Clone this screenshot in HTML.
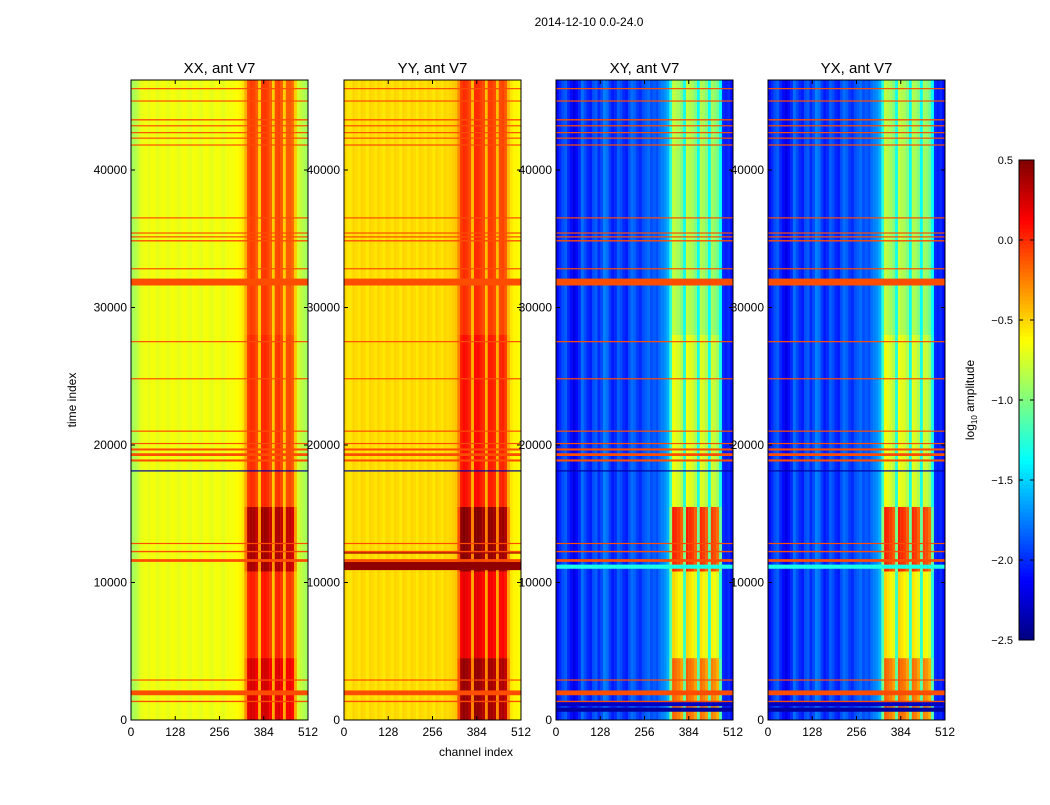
<!DOCTYPE html>
<html><head><meta charset="utf-8"><style>
body{margin:0;background:#fff;font-family:"Liberation Sans",sans-serif}
svg text{font-family:"Liberation Sans",sans-serif}
</style></head><body>
<svg id="fig" width="1050" height="800" xmlns="http://www.w3.org/2000/svg">
<rect width="1050" height="800" fill="#fff"/>
<text x="589" y="26" font-size="12" text-anchor="middle">2014-12-10 0.0-24.0</text>
<text x="476" y="756" font-size="12" text-anchor="middle">channel index</text>
<text transform="translate(76,400) rotate(-90)" font-size="12" text-anchor="middle">time index</text>
<text transform="translate(974,400) rotate(-90)" font-size="12" text-anchor="middle">log<tspan font-size="8" dy="3">10</tspan><tspan dy="-3"> amplitude</tspan></text>
<g id="panels"></g>
<g id="cbar"></g>
</svg>
<script>
const panelTitles=["XX, ant V7","YY, ant V7","XY, ant V7","YX, ant V7"];
const xTickLabels=[0,128,256,384,512];
const yTickLabels=[0,10000,20000,30000,40000];
const cbarTicks=[0.5,0.0,-0.5,-1.0,-1.5,-2.0,-2.5];
// column profiles: 64 bins of 8 channels, log10 amplitude
const colXX=[-0.9,-0.85,-0.8,-0.7,-0.68,-0.66,-0.7,-0.65,-0.66,-0.7,-0.68,-0.65,-0.67,-0.7,-0.66,-0.65,-0.68,-0.7,-0.66,-0.65,-0.68,-0.7,-0.66,-0.65,-0.68,-0.7,-0.66,-0.65,-0.68,-0.7,-0.66,-0.65,-0.68,-0.7,-0.66,-0.65,-0.66,-0.64,-0.62,-0.6,-0.55,-0.4,-0.15,-0.1,-0.12,-0.2,-0.5,-0.1,-0.08,-0.12,-0.2,-0.5,-0.15,-0.12,-0.2,-0.5,-0.2,-0.18,-0.25,-0.5,-0.75,-0.8,-0.85,-0.9];
const colYY=[-0.5,-0.55,-0.55,-0.5,-0.52,-0.55,-0.5,-0.52,-0.56,-0.5,-0.52,-0.55,-0.5,-0.53,-0.56,-0.5,-0.52,-0.55,-0.5,-0.52,-0.56,-0.5,-0.52,-0.55,-0.5,-0.52,-0.56,-0.5,-0.52,-0.55,-0.5,-0.52,-0.56,-0.5,-0.52,-0.55,-0.5,-0.52,-0.5,-0.48,-0.45,-0.3,-0.1,-0.05,-0.08,-0.15,-0.45,-0.05,-0.05,-0.1,-0.15,-0.45,-0.1,-0.1,-0.15,-0.45,-0.15,-0.12,-0.2,-0.45,-0.55,-0.6,-0.6,-0.65];
const colXY=[-2.1,-2.0,-1.9,-1.85,-2.0,-2.1,-2.2,-2.1,-2.0,-1.8,-1.9,-2.0,-2.05,-1.9,-1.85,-2.0,-1.9,-1.75,-1.8,-1.95,-2.05,-2.0,-1.85,-1.9,-2.0,-2.05,-1.9,-1.8,-1.85,-1.95,-2.0,-1.9,-1.85,-1.8,-1.9,-1.85,-1.9,-1.8,-1.75,-1.7,-1.6,-1.3,-0.9,-0.95,-1.0,-1.1,-1.35,-0.9,-0.95,-1.0,-1.1,-1.4,-0.95,-1.0,-1.1,-1.4,-1.0,-1.05,-1.15,-1.4,-2.0,-2.05,-2.0,-2.1];
const colYX=[-2.1,-2.0,-1.9,-1.85,-2.0,-2.1,-2.2,-2.1,-2.0,-1.8,-1.9,-2.0,-2.05,-1.9,-1.85,-2.0,-1.9,-1.75,-1.8,-1.95,-2.05,-2.0,-1.85,-1.9,-2.0,-2.05,-1.9,-1.8,-1.85,-1.95,-2.0,-1.9,-1.85,-1.8,-1.9,-1.85,-1.9,-1.8,-1.75,-1.7,-1.6,-1.3,-0.9,-0.95,-1.0,-1.1,-1.35,-0.9,-0.95,-1.0,-1.1,-1.4,-0.95,-1.0,-1.1,-1.4,-1.0,-1.05,-1.15,-1.4,-2.0,-2.05,-2.0,-2.1];
const colProfiles=[colXX,colYY,colXY,colYX];
// time-range boosts in band channels (start,end,boost per panel)
const boostStart=[0,4500,10800,15500,28000];
const boostEnd=[4500,10800,15500,28000,46545];
const boostXX=[0.35,0.15,0.5,0.1,0.05];
const boostYY=[0.5,0.25,0.55,0.15,0.05];
const boostXY=[0.75,0.4,0.95,0.25,0.1];
const boostYX=[0.75,0.4,0.95,0.25,0.1];
const boosts=[boostXX,boostYY,boostXY,boostYX];
// flagged time rows common to all panels
const flagStart=[1800,1300,2900,11500,12200,12800,18800,19200,19600,20100,21000,24800,27500,31600,32800,34800,35100,35400,36500,41800,42300,42700,43200,43600,45000,45900];
const flagEnd=[2150,1400,2950,11700,12300,12880,18950,19400,19750,20150,21050,24860,27560,32100,32860,34900,35180,35460,36560,41860,42360,42760,43260,43700,45060,45960];
const flagValue=-0.1;
// panel-specific extra rows
const extraPanel=[1,1,2,2,2,3,3,3,0,1,2,3];
const extraStart=[10900,12100,600,1000,11000,600,1000,11000,18100,18100,18100,18100];
const extraEnd=[11500,12200,900,1300,11300,900,1300,11300,18160,18160,18160,18160];
const extraValue=[0.45,0.4,-2.4,-2.3,-1.3,-2.4,-2.3,-1.3,-2.4,-2.4,-2.4,-2.4];
const tMax=46545, cMax=512, vMin=-2.5, vMax=0.5, binW=8;
const panelX=[131,344,556,768], panelW=177, pTop=80, pBot=720;
const NS="http://www.w3.org/2000/svg";
function jet(v){let t=(v-vMin)/(vMax-vMin);t=Math.max(0,Math.min(1,t));
 const r=Math.max(0,Math.min(1,1.5-Math.abs(4*t-3))),g=Math.max(0,Math.min(1,1.5-Math.abs(4*t-2))),b=Math.max(0,Math.min(1,1.5-Math.abs(4*t-1)));
 return `rgb(${Math.round(r*255)},${Math.round(g*255)},${Math.round(b*255)})`;}
function mk(tag,at,parent){const e=document.createElementNS(NS,tag);for(const k in at)e.setAttribute(k,at[k]);parent.appendChild(e);return e;}
const panels=document.getElementById('panels');
panelTitles.forEach((title,p)=>{
 const x0=panelX[p];
 const xs=c=>x0+c/cMax*panelW, ys=t=>pBot-t/tMax*(pBot-pTop);
 const g=mk('g',{},panels);
 
 
 const prof=colProfiles[p];
 prof.forEach((v,i)=>{
  const w=xs((i+1)*binW)-xs(i*binW)+0.3;
  const r=mk('rect',{x:xs(i*binW),y:pTop,width:w,height:pBot-pTop,fill:jet(v)},g);
  
  
  if(i>=41&&i<=59){
   boostStart.forEach((s,k)=>{
    const gap=(i===46||i===51||i===55||i===59||i===41)?0.35:1;
    const rr=mk('rect',{x:xs(i*binW),y:ys(boostEnd[k]),width:w,height:ys(boostStart[k])-ys(boostEnd[k]),fill:jet(v+boosts[p][k]*gap)},g);
    
    
   });
  }
 });
 extraPanel.forEach((pp,k)=>{
  if(pp!==p)return;
  const h=Math.max(1.2,ys(extraStart[k])-ys(extraEnd[k]));
  const e=mk('rect',{x:x0,y:ys(extraEnd[k]),width:panelW,height:h,fill:jet(extraValue[k])},g);
  
  
 });
 flagStart.forEach((s,k)=>{
  const h=Math.max(1.2,ys(s)-ys(flagEnd[k]));
  const f=mk('rect',{x:x0,y:ys(flagEnd[k]),width:panelW,height:h,fill:jet(flagValue)},g);
  
  
 });
 const fr=mk('rect',{x:x0,y:pTop,width:panelW,height:pBot-pTop,fill:'none',stroke:'#000','stroke-width':1},g);
 
 
 const tt=mk('text',{x:x0+panelW/2,y:73,'font-size':15,'text-anchor':'middle'},g);tt.textContent=title;
 
 
 xTickLabels.forEach(c=>{const X=xs(c);
  mk('line',{x1:X,x2:X,y1:pBot,y2:pBot-4,stroke:'#000'},g);mk('line',{x1:X,x2:X,y1:pTop,y2:pTop+4,stroke:'#000'},g);
  const t=mk('text',{x:X,y:pBot+16,'font-size':12,'text-anchor':'middle'},g);t.textContent=c;
  
  });
 yTickLabels.forEach(v=>{const Y=ys(v);
  mk('line',{x1:x0,x2:x0+4,y1:Y,y2:Y,stroke:'#000'},g);mk('line',{x1:x0+panelW,x2:x0+panelW-4,y1:Y,y2:Y,stroke:'#000'},g);
  const t=mk('text',{x:x0-4,y:Y+4,'font-size':12,'text-anchor':'end'},g);t.textContent=v;
  
  });
});
const cb=document.getElementById('cbar');


const cx=1019,cw=15,cT=160,cB=640,N=120;
for(let i=0;i<N;i++){const v=vMin+(i+0.5)/N*(vMax-vMin);const y=cB-(i+1)/N*(cB-cT);
 const r=mk('rect',{x:cx,y:y,width:cw,height:(cB-cT)/N+0.5,fill:jet(v)},cb);
 
 }
mk('rect',{x:cx,y:cT,width:cw,height:cB-cT,fill:'none',stroke:'#000'},cb);
cbarTicks.forEach(v=>{const y=cB-(v-vMin)/(vMax-vMin)*(cB-cT);
 mk('line',{x1:cx,x2:cx+4,y1:y,y2:y,stroke:'#000'},cb);
 mk('line',{x1:cx+cw-4,x2:cx+cw,y1:y,y2:y,stroke:'#000'},cb);
 const t=mk('text',{x:cx-6,y:y+4,'font-size':11,'text-anchor':'end'},cb);t.textContent=v.toFixed(1).replace('-','\u2212');
 
 });
</script>
</body></html>
